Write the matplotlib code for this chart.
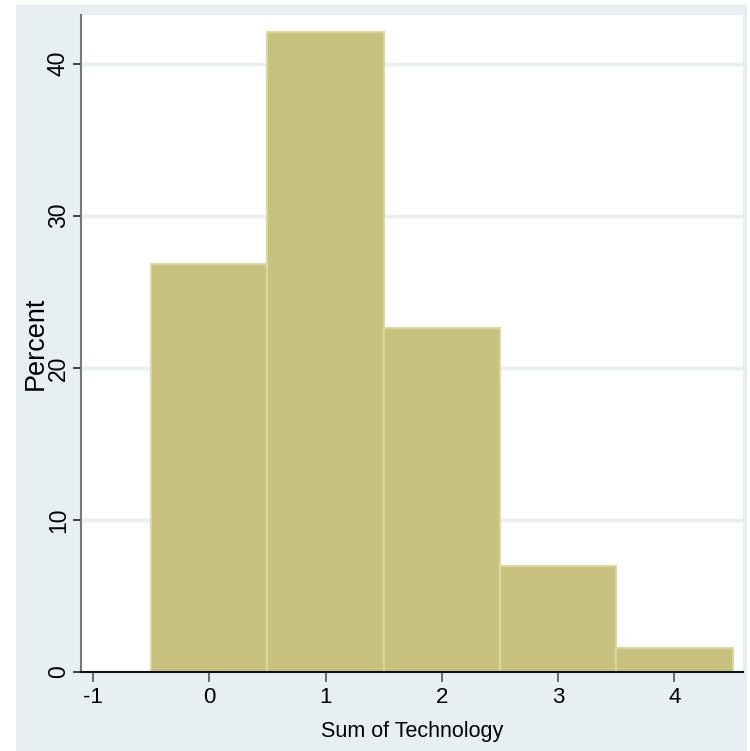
import matplotlib
matplotlib.use('Agg')
import matplotlib.pyplot as plt
from matplotlib.patches import Rectangle

matplotlib.rcParams['font.family'] = ['Liberation Sans', 'DejaVu Sans']
matplotlib.rcParams['axes.unicode_minus'] = False

# histogram data (percent per value)
values = [0, 1, 2, 3, 4]
percent = [26.8, 42.1, 22.6, 7.0, 1.6]
xticks = [-1, 0, 1, 2, 3, 4]
yticks = [0, 10, 20, 30, 40]

fig = plt.figure(figsize=(7.5, 7.51), dpi=100)
fig.patch.set_facecolor('white')
# stata-like outer panel
fig.patches.append(Rectangle((16 / 750, 0), 731 / 750, 746 / 751, transform=fig.transFigure,
                             facecolor='#E8EFF2', edgecolor='none', zorder=-5))

ax = fig.add_axes([81 / 750, 79 / 751, 662 / 750, 657 / 751])
ax.set_facecolor('white')

for y in yticks[1:]:
    ax.axhline(y, color='#E8EFF2', lw=2.5, zorder=0)

ax.bar(values, percent, width=1.0, color='#C9C27E', edgecolor='#DCD7A2', linewidth=1.5, zorder=2)

ax.set_xlim(-1.103, 4.59)
ax.set_ylim(0, 43.2)
ax.set_xticks(xticks)
ax.set_yticks(yticks)
ax.set_yticklabels([str(t) for t in yticks], rotation=90, va='center')
ax.tick_params(axis='x', labelsize=16, length=7, width=1.2, color='#555555', pad=4)
ax.tick_params(axis='y', labelsize=16.5, length=6, width=1.2, color='#222222', pad=2)

for s in ['top', 'right']:
    ax.spines[s].set_visible(False)
ax.spines['left'].set_color('#777777')
ax.spines['left'].set_linewidth(1.5)
ax.spines['bottom'].set_color('#111111')
ax.spines['bottom'].set_linewidth(1.5)

ax.set_xlabel('Sum of Technology', fontsize=15.5, labelpad=9)
ax.set_ylabel('Percent', fontsize=19.5, labelpad=-1)

fig.savefig('out.png', dpi=100)
